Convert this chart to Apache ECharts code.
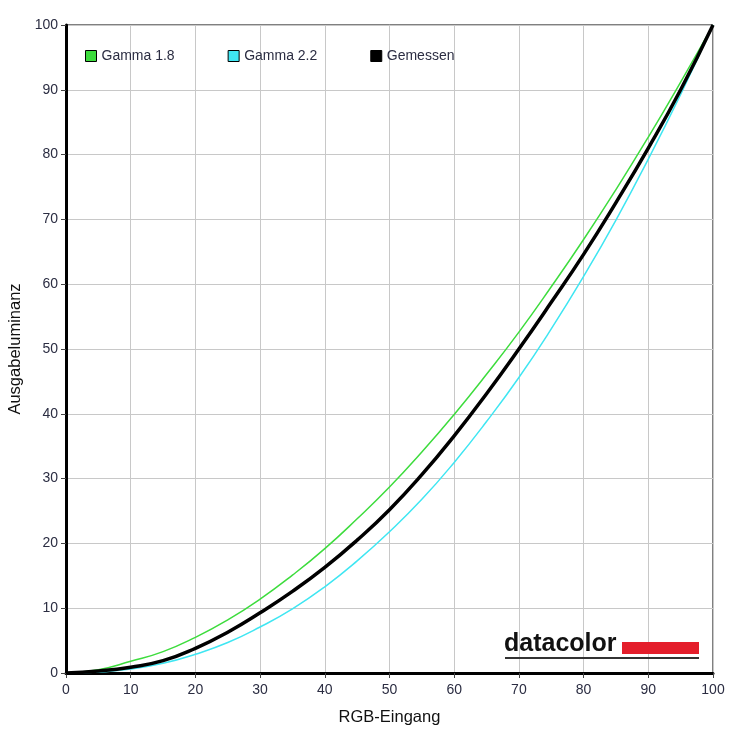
<!DOCTYPE html>
<html>
<head>
<meta charset="utf-8">
<script src="https://cdn.jsdelivr.net/npm/echarts@6/dist/echarts.min.js"></script>
<style>html,body{margin:0;padding:0;background:#fff;}#c{width:736px;height:736px;}</style>
</head>
<body>
<div id="c"></div>
<script>
var xValues = [0,5,10,15,20,25,30,35,40,45,50,55,60,65,70,75,80,85,90,95,100];
var gamma18 = [0,0.5,1.8,3.3,5.5,8.2,11.4,15.1,19.2,23.8,28.7,34.1,39.9,46.1,52.6,59.6,66.9,74.6,82.7,91.2,100];
var gamma22 = [0,0.15,0.6,1.5,2.9,4.7,7.1,9.9,13.3,17.3,21.8,26.8,32.5,38.8,45.6,53.1,61.2,69.9,79.3,89.3,100];
var measured = [0,0.3,0.9,1.9,3.8,6.3,9.3,12.6,16.3,20.5,25.2,30.6,36.6,43.1,50.0,57.2,64.6,72.6,81.0,90.0,100];
var seriesNames = ['Gamma 1.8','Gamma 2.2','Gemessen'];
var seriesColors = ['#3ddc3d','#3fe6f2','#000000'];
var xAxisName = 'RGB-Eingang';
var yAxisName = 'Ausgabeluminanz';

function pairs(arr){ return xValues.map(function(x,i){return [x,arr[i]];}); }

var chart = echarts.init(document.getElementById('c'));
var labelColor = '#2b2d42';
var ff = 'Liberation Sans, Arial, sans-serif';
chart.setOption({
  animation:false,
  backgroundColor:'#fff',
  grid:{left:66,right:23,top:25,bottom:63,show:true,borderColor:'#000',borderWidth:1,containLabel:false,outerBoundsMode:'none'},
  legend:{
    left:80, top:44, itemGap:53, itemWidth:11, itemHeight:11, icon:'rect',
    textStyle:{fontFamily:ff,fontSize:14,color:labelColor},
    data:seriesNames.map(function(n,i){return {name:n,itemStyle:{color:seriesColors[i],borderColor:'#000',borderWidth:1}};})
  },
  xAxis:{
    type:'value',min:0,max:100,interval:10,
    name:xAxisName,nameLocation:'middle',nameGap:36,
    nameTextStyle:{fontFamily:ff,fontSize:16.5,color:'#111'},
    axisLine:{show:true,onZero:false,lineStyle:{color:'#000',width:3}},
    axisTick:{show:true,length:5,lineStyle:{color:'#444',width:1}},
    axisLabel:{fontFamily:ff,fontSize:14,color:labelColor,margin:10},
    splitLine:{show:true,lineStyle:{color:'#c8c8c8',width:1}}
  },
  yAxis:{
    type:'value',min:0,max:100,interval:10,
    name:yAxisName,nameLocation:'middle',nameGap:39,nameRotate:90,
    nameTextStyle:{fontFamily:ff,fontSize:16.5,color:'#111'},
    axisLine:{show:true,onZero:false,lineStyle:{color:'#000',width:3}},
    axisTick:{show:true,length:5,lineStyle:{color:'#444',width:1}},
    axisLabel:{fontFamily:ff,fontSize:14,color:labelColor,margin:8},
    splitLine:{show:true,lineStyle:{color:'#c8c8c8',width:1}}
  },
  graphic:[
    {type:'text',left:504,top:632,z:10,style:{text:'datacolor',font:'bold 25px "Liberation Sans", Arial, sans-serif',fill:'#111'}},
    {type:'rect',left:622,top:642,z:10,shape:{width:77,height:12},style:{fill:'#e41e2b'}},
    {type:'rect',left:505,top:657,z:10,shape:{width:194,height:2},style:{fill:'#333'}}
  ],
  series:[
    {name:seriesNames[0],type:'line',smooth:0.5,showSymbol:false,data:pairs(gamma18),lineStyle:{color:seriesColors[0],width:1.5},itemStyle:{color:seriesColors[0]},z:2},
    {name:seriesNames[1],type:'line',smooth:0.5,showSymbol:false,data:pairs(gamma22),lineStyle:{color:seriesColors[1],width:1.5},itemStyle:{color:seriesColors[1]},z:2},
    {name:seriesNames[2],type:'line',smooth:0.5,showSymbol:false,data:pairs(measured),lineStyle:{color:seriesColors[2],width:3.5},itemStyle:{color:seriesColors[2]},z:3}
  ]
});
</script>
</body>
</html>
